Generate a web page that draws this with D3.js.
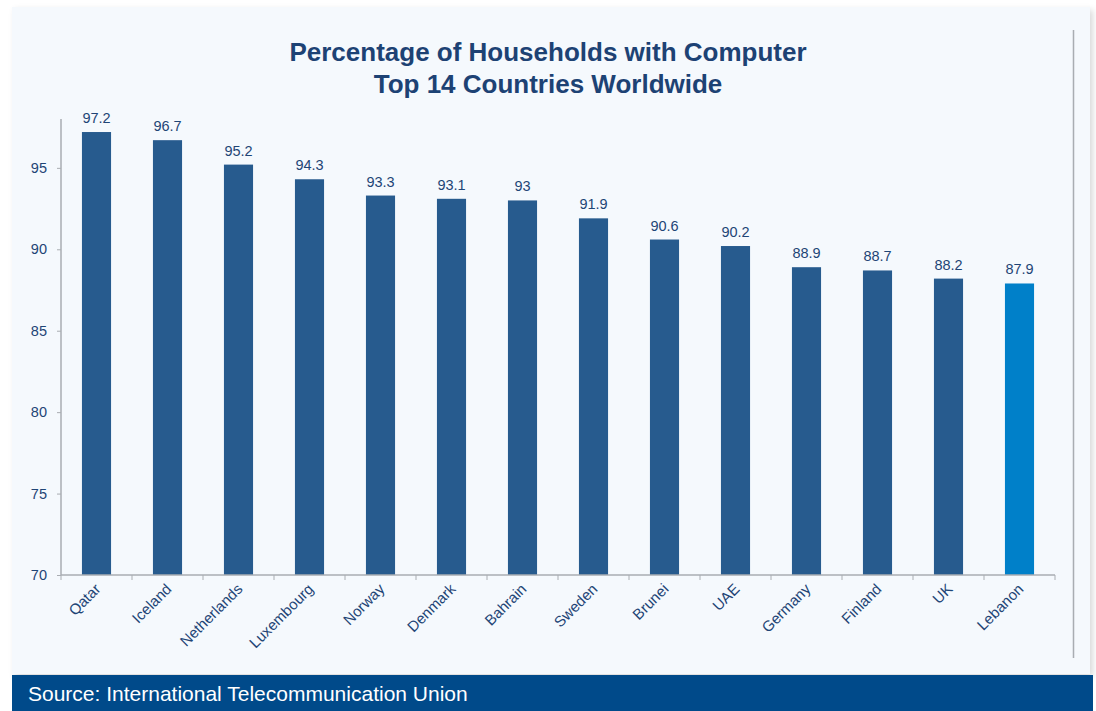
<!DOCTYPE html>
<html><head><meta charset="utf-8">
<script src="https://cdn.jsdelivr.net/npm/d3@7/dist/d3.min.js"></script>
<style>
html,body{margin:0;padding:0;background:#fff;}
svg{display:block;font-family:"Liberation Sans",Arial,Helvetica,sans-serif;}
</style></head>
<body>
<svg id="chart" width="1096" height="711"></svg>
<script>
const countries = ["Qatar","Iceland","Netherlands","Luxembourg","Norway","Denmark","Bahrain","Sweden","Brunei","UAE","Germany","Finland","UK","Lebanon"];
const values = [97.2,96.7,95.2,94.3,93.3,93.1,93,91.9,90.6,90.2,88.9,88.7,88.2,87.9];
const valueLabels = ["97.2","96.7","95.2","94.3","93.3","93.1","93","91.9","90.6","90.2","88.9","88.7","88.2","87.9"];
const yTicks = [70,75,80,85,90,95];
const titleLines = ["Percentage of Households with Computer","Top 14 Countries Worldwide"];
const sourceText = "Source: International Telecommunication Union";
const highlight = "Lebanon";

const svg = d3.select("#chart");
const defs = svg.append("defs");
const f = defs.append("filter").attr("id","sh").attr("x","-5%").attr("y","-5%").attr("width","110%").attr("height","110%");
f.append("feDropShadow").attr("dx",3).attr("dy",3).attr("stdDeviation",3).attr("flood-color","#000").attr("flood-opacity",0.15);

// card
svg.append("rect").attr("x",12).attr("y",7).attr("width",1078).attr("height",667)
  .attr("fill","#f5f9fd").attr("filter","url(#sh)");

// footer
svg.append("rect").attr("x",12).attr("y",675).attr("width",1081).attr("height",36).attr("fill","#004a8a");
svg.append("text").attr("x",28).attr("y",701).attr("fill","#fff").attr("font-size",21).text(sourceText);

// right divider
svg.append("line").attr("x1",1073.5).attr("x2",1073.5).attr("y1",30).attr("y2",658)
  .attr("stroke","#a9adb2").attr("stroke-width",1.5);

// title
const title = svg.append("text").attr("text-anchor","middle").attr("fill","#1d4274")
  .attr("font-weight","bold").attr("font-size",26);
titleLines.forEach((t,i)=>title.append("tspan").attr("x",548).attr("y",61+i*32).text(t));

const x = d3.scaleBand().domain(countries).range([61,1055]).paddingInner(0.59).paddingOuter(0.295);
const y = d3.scaleLinear().domain([70,98]).range([575,119]);

// bars
svg.append("g").selectAll("rect").data(countries).join("rect")
  .attr("x",d=>x(d)).attr("width",x.bandwidth())
  .attr("y",(d,i)=>y(values[i])).attr("height",(d,i)=>y(70)-y(values[i]))
  .attr("fill",d=>d===highlight?"#0080c9":"#275b8e");

// value labels
svg.append("g").selectAll("text").data(countries).join("text")
  .attr("x",d=>x(d)+x.bandwidth()/2).attr("y",(d,i)=>y(values[i])-9)
  .attr("text-anchor","middle").attr("font-size",14.5).attr("fill","#1f4576")
  .text((d,i)=>valueLabels[i]);

// y axis
const ya = svg.append("g").attr("transform","translate(61,0)")
  .call(d3.axisLeft(y).tickValues(yTicks).tickSize(4).tickPadding(10).tickFormat(d3.format("d")));
ya.select(".domain").attr("stroke","#a9adb2").attr("stroke-width",1.5).attr("d","M0,119V575");
ya.selectAll(".tick line").attr("stroke","#a9adb2");
ya.selectAll(".tick text").attr("fill","#1f4576").attr("font-size",14.5).attr("font-family","'Liberation Sans',Arial,sans-serif");

// x axis
const xa = svg.append("g").attr("transform","translate(0,575)")
  .call(d3.axisBottom(x).tickSize(0).tickPadding(0));
xa.select(".domain").attr("stroke","#a9adb2").attr("stroke-width",1.5).attr("d","M61,0H1055");
xa.selectAll(".tick line").remove();
xa.selectAll(".tick text")
  .attr("fill","#1f4576").attr("font-size",15).attr("font-family","'Liberation Sans',Arial,sans-serif")
  .attr("text-anchor","end").attr("dy",0)
  .attr("transform","translate(5,15) rotate(-45)");
// category boundary ticks
const step = x.step();
const bounds = d3.range(countries.length+1).map(i=>61+i*step);
svg.append("g").selectAll("line").data(bounds).join("line")
  .attr("x1",d=>d).attr("x2",d=>d).attr("y1",575).attr("y2",580)
  .attr("stroke","#a9adb2");
</script>
</body></html>
